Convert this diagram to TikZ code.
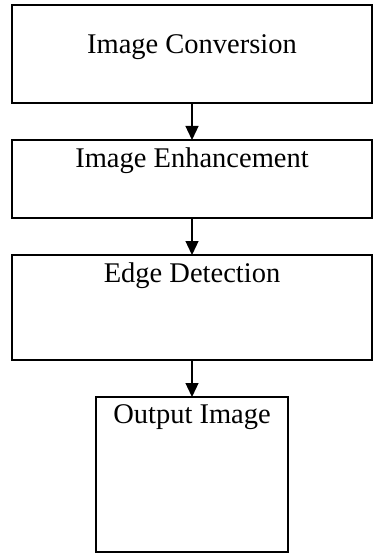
\documentclass[tikz,border=0pt]{standalone}
\usepackage{fontspec}
\setmainfont{Liberation Serif}
\usepackage{tikz}
\usetikzlibrary{positioning, arrows.meta}

\begin{document}
\begin{tikzpicture}
        [
            x=1pt, y=-1pt,
            every node/.style={font=\fontsize{28.5}{34}\selectfont},
            stage/.style={draw, line width=2.2pt, inner xsep=0pt, inner ysep=0pt,
                outer sep=0pt, minimum width=360pt},
            flow/.style={-{Triangle[length=14pt, width=13pt]}, line width=1.3pt},
        ]
        \useasboundingbox (0,0) rectangle (388,559);
        % four stages, label sitting near the top edge of each box
        \node[stage, anchor=north, text height=49pt, text depth=49pt]
            (conv) at (192,5) {Image Conversion};
        \node[stage, below=37pt of conv, text height=27pt, text depth=51pt]
            (enh) {Image Enhancement};
        \node[stage, below=37pt of enh, text height=27pt, text depth=78pt]
            (edge) {Edge Detection};
        \node[stage, below=37pt of edge, minimum width=192pt,
            text height=26pt, text depth=129pt]
            (out) {Output Image};

        \draw[flow] (conv) -- (enh);
        \draw[flow] (enh) -- (edge);
        \draw[flow] (edge) -- (out);
\end{tikzpicture}
\end{document}
